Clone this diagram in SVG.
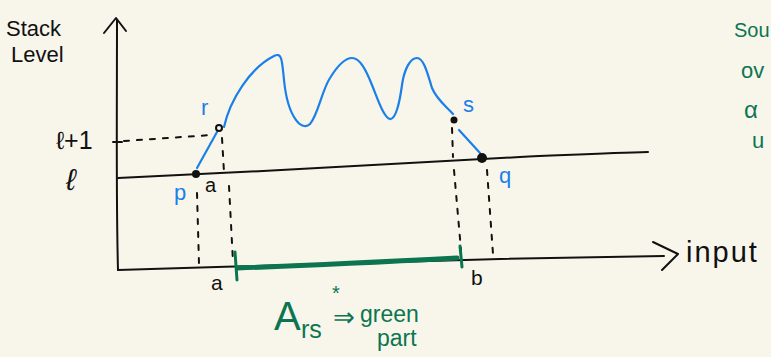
<svg xmlns="http://www.w3.org/2000/svg" width="771" height="357" viewBox="0 0 771 357">
<style>
.ink{fill:none;stroke:#111;stroke-width:2;stroke-linecap:round;stroke-linejoin:round}
.dash{fill:none;stroke:#111;stroke-width:2;stroke-dasharray:5 8;stroke-linecap:round}
.blue{fill:none;stroke:#1a7fe8;stroke-width:2.2;stroke-linecap:round;stroke-linejoin:round}
.green{fill:none;stroke:#0c7550;stroke-linecap:round}
.t{font-family:"Liberation Sans",Arial,sans-serif;fill:#111}
.tb{font-family:"Liberation Sans",Arial,sans-serif;fill:#1a7fe8}
.tg{font-family:"Liberation Sans",Arial,sans-serif;fill:#0c7550}
</style>
<rect width="771" height="357" fill="#f8f6eb"/>
<g id="axes">
<path class="ink" d="M118,270 C116,200 117,100 117,20"/>
<path class="ink" d="M104,33 L116,18 L126,31"/>
<path class="ink" d="M118,270 C250,266 400,262 500,259 C560,258 620,257 664,256"/>
<path class="ink" d="M653,242 L678,254 L662,270"/>
<path class="ink" d="M118,178 C250,172 400,164 520,157 C570,155 610,153 648,152"/>
<path class="ink" d="M113,142 L122,142"/>
</g>
<g id="axis-labels">
<text class="t" x="6" y="36" font-size="22">Stack</text>
<text class="t" x="11" y="62" font-size="22">Level</text>
<text class="t" x="56" y="149" font-size="25">ℓ+1</text>
<text class="t" x="66" y="190" font-size="30" font-style="italic">ℓ</text>
<text class="t" x="686" y="262" font-size="29" letter-spacing="2">input</text>
</g>
<g id="connectors">
<path class="dash" d="M124,141 L212,135"/>
<path class="dash" d="M222,138 L224,172"/>
<path class="dash" d="M229,186 L233,262"/>
<path class="dash" d="M197,193 L199,264"/>
<path class="dash" d="M452,128 L453,157"/>
<path class="dash" d="M454,170 L461,250"/>
<path class="dash" d="M487,170 L493,254"/>
<path class="blue" d="M197,168 L217,132"/>
<path class="blue" d="M224,127 C230,100 250,68 274,56 C282,52 282,60 284,80 C286,100 290,112 296,120 C300,126 306,128 310,124 C318,115 322,90 330,78 C338,65 346,58 352,58 C360,58 366,70 372,85 C378,100 384,118 390,119 C396,120 400,100 402,85 C404,70 410,58 417,58 C424,58 428,75 432,88 C437,100 446,106 453,114"/>
<path class="blue" d="M459,130 L480,153"/>
</g>
<g id="p"><circle cx="196" cy="174" r="4" fill="#111"/><text class="tb" x="174" y="200" font-size="22">p</text></g>
<g id="r"><circle cx="219" cy="128" r="3" fill="#f8f6eb" stroke="#111" stroke-width="2"/><text class="tb" x="201" y="115" font-size="22">r</text></g>
<g id="s"><circle cx="454" cy="120" r="3.5" fill="#111"/><text class="tb" x="463" y="112" font-size="22">s</text></g>
<g id="q"><circle cx="482" cy="158" r="5" fill="#111"/><text class="tb" x="499" y="183" font-size="22">q</text></g>
<text class="t" x="205" y="192" font-size="20">a</text>
<g id="interval">
<path class="green" stroke-width="5" d="M238,268 C320,265 400,261 457,258"/>
<path class="green" stroke-width="3" d="M235,252 L237,280"/>
<path class="green" stroke-width="3" d="M460,246 L462,267"/>
<text class="t" x="211" y="290" font-size="21">a</text>
<text class="t" x="471" y="285" font-size="21">b</text>
</g>
<g id="note">
<text class="tg" x="274" y="330" font-size="40">A</text>
<text class="tg" x="301" y="338" font-size="25">rs</text>
<text class="tg" x="332" y="300" font-size="20">*</text>
<text class="tg" x="333" y="326" font-size="26">⇒</text>
<text class="tg" x="360" y="322" font-size="23">green</text>
<text class="tg" x="377" y="346" font-size="23">part</text>
</g>
<g id="side-note">
<text class="tg" x="734" y="37" font-size="20">Sou</text>
<text class="tg" x="741" y="78" font-size="22">ov</text>
<text class="tg" x="744" y="118" font-size="24">α</text>
<text class="tg" x="752" y="148" font-size="22">u</text>
</g>
</svg>
